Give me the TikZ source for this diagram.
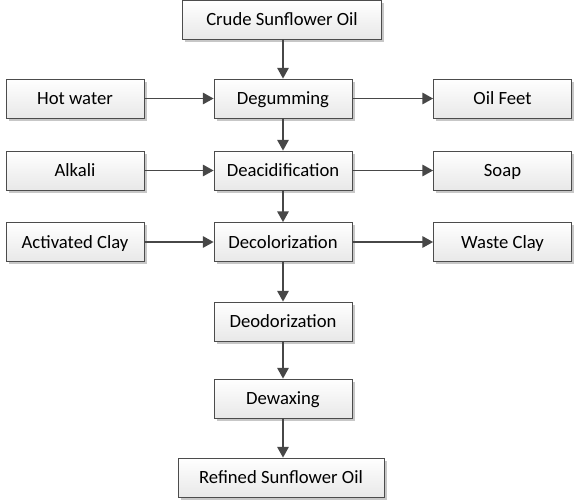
\documentclass[tikz,border=0pt]{standalone}
\usepackage{fontspec}
\setmainfont{Carlito}
\usetikzlibrary{shadows,arrows.meta}
\tikzset{
  box/.style={draw=black!70, line width=0.6pt, top color=white, bottom color=black!9,
    drop shadow={shadow xshift=2pt, shadow yshift=-2pt, fill=black!22, opacity=1},
    minimum width=103.5pt, minimum height=29.25pt, inner sep=0pt,
    text height=10.5pt, text depth=1.5pt,
    font=\fontsize{14}{16}\selectfont},
  arr/.style={draw=black!72, line width=1.3pt, -{Triangle[length=8pt,width=8.5pt]}}
}
\begin{document}
\begin{tikzpicture}[x=0.75pt, y=-0.75pt]
\useasboundingbox (0,0) rectangle (580,500);
\node[box, minimum width=149pt] (crude) at (282,19.5) {Crude Sunflower Oil};
\node[box] (deg) at (283,98.5) {Degumming};
\node[box] (dea) at (283,170.5) {Deacidification};
\node[box] (dec) at (283,242) {Decolorization};
\node[box] (deo) at (283,321.5) {Deodorization};
\node[box] (dew) at (283,398.5) {Dewaxing};
\node[box, minimum width=154.5pt] (ref) at (281,477.5) {Refined Sunflower Oil};
\node[box] (hot) at (75,98.5) {Hot water};
\node[box] (alk) at (75,170.5) {Alkali};
\node[box] (act) at (75,242) {Activated Clay};
\node[box] (oil) at (502.5,98.5) {Oil Feet};
\node[box] (soap) at (502.5,170.5) {Soap};
\node[box] (waste) at (502.5,242) {Waste Clay};
\draw[arr] (crude.south -| deg.north) -- (deg.north);
\draw[arr] (deg) -- (dea);
\draw[arr] (dea) -- (dec);
\draw[arr] (dec) -- (deo);
\draw[arr] (deo) -- (dew);
\draw[arr] (dew.south) -- (dew.south |- ref.north);
\draw[arr] (hot) -- (deg);
\draw[arr] (alk) -- (dea);
\draw[arr] (act) -- (dec);
\draw[arr] (deg) -- (oil);
\draw[arr] (dea) -- (soap);
\draw[arr] (dec) -- (waste);
\end{tikzpicture}
\end{document}
